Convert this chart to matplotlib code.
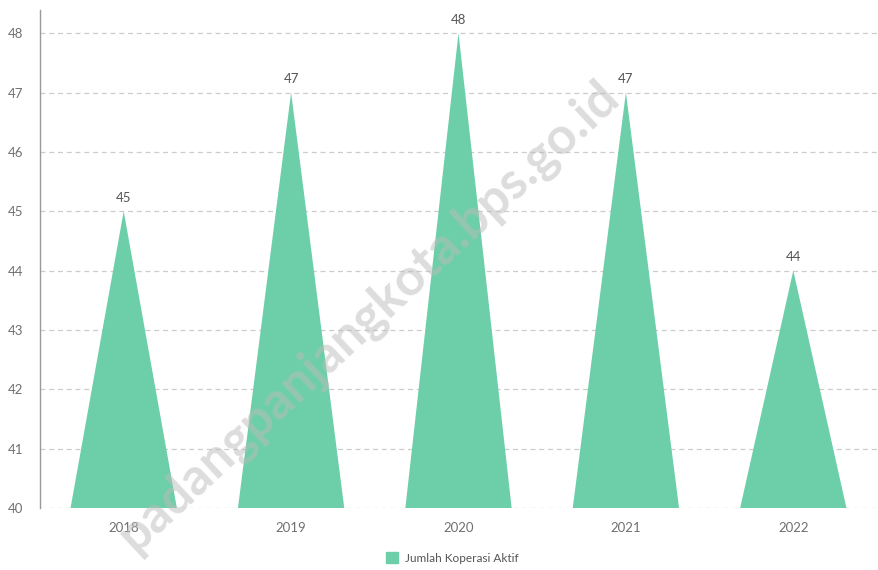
import matplotlib
matplotlib.use("Agg")
import matplotlib.pyplot as plt

categories = ["2018", "2019", "2020", "2021", "2022"]
values = [45, 47, 48, 47, 44]
series_name = "Jumlah Koperasi Aktif"
yticks = [40, 41, 42, 43, 44, 45, 46, 47, 48]

plt.rcParams['font.family'] = ['Lato', 'DejaVu Sans']
color = '#6dcfa9'
tick_color = '#707070'

fig = plt.figure(figsize=(8.79, 5.70), dpi=100)
ax = fig.add_axes([40/879, 62/570, 837/879, 498/570])

base = 40
w = 0.635
for i, v in enumerate(values):
    ax.fill([i - w/2, i, i + w/2], [base, v, base], color=color, lw=0, zorder=2)
    ax.text(i, v + 0.12, str(v), ha='center', va='bottom', fontsize=9.5, color='#555555', zorder=3)

ax.set_xlim(-0.5, len(categories) - 0.5)
ax.set_ylim(40, 48.39)
ax.set_yticks(yticks)
ax.set_xticks(range(len(categories)))
ax.set_xticklabels(categories)
ax.tick_params(axis='both', length=0, colors=tick_color, labelsize=9.5)
ax.tick_params(axis='x', pad=10)
ax.tick_params(axis='y', pad=12)
ax.yaxis.grid(True, linestyle=(0, (4, 3)), color='#cccccc', linewidth=0.9, zorder=1)
ax.set_axisbelow(True)
for s in ['top', 'right', 'bottom']:
    ax.spines[s].set_visible(False)
ax.spines['left'].set_color('#999999')
ax.spines['left'].set_linewidth(1.0)

# legend
from matplotlib.patches import Patch
fig.legend(handles=[Patch(color=color, label=series_name)], loc='center',
           bbox_to_anchor=(452/879, 1 - 558/570), frameon=False, fontsize=8.5,
           handlelength=1.0, handleheight=1.0, handletextpad=0.6, labelcolor='#555555')

# watermark
fig.text(0.42, 0.445, "padangpanjangkota.bps.go.id", rotation=43, ha='center', va='center',
         fontsize=37, color='#bbbbbb', alpha=0.5, fontweight='bold', zorder=10)

fig.savefig("out.png", dpi=100)
